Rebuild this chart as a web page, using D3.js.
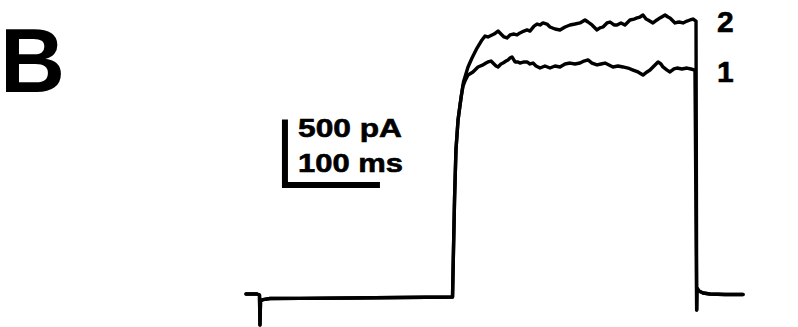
<!DOCTYPE html>
<html>
<head>
<meta charset="utf-8">
<script src="https://cdn.jsdelivr.net/npm/d3@7"></script>
<style>
  html, body { margin: 0; padding: 0; background: #fff; }
  svg { display: block; }
  text { font-family: "Liberation Sans", Arial, Helvetica, sans-serif; font-weight: bold; fill: #000; }
</style>
</head>
<body>
<svg id="chart" width="798" height="327"></svg>
<script>
// Time (ms) and current (pA) samples
const sharedStartT = [0, 11.6, 14.2, 14.7, 15.3, 17.9, 25.3, 56.8, 109.5, 162.1, 217.4, 218.4, 219.5, 221, 223.2, 225.3, 226.8];
const sharedStartI = [22, 22, 15, -207, -30, -19, -11, -10, -7, -4, 0, 348, 719, 1089, 1311, 1422, 1496];

const trace2T = [228.9, 230.5, 233.7, 237.9, 243.2, 248.4, 251.6, 254.7, 256.8, 261.1, 265.3, 268.4, 271.6, 274.7, 277.9, 282.1, 285.3, 288.4, 292.6, 295.8, 298.9, 303.2, 306.3, 309.5, 312.6, 316.8, 320, 325.3, 330.5, 335.8, 341.1, 346.3, 351.6, 356.8, 360, 364.2, 369.5, 372.6, 375.8, 380, 383.2, 387.4, 390.5, 394.7, 398.9, 404.2, 408.4, 411.6, 414.7, 417.9, 421.1, 423.2, 428.4, 432.6, 435.8, 441.1, 444.2, 446.3, 451.6, 455.8, 460, 464.2, 467.4, 470.5, 473.7];
const trace2I = [1593, 1630, 1704, 1770, 1844, 1904, 1933, 1926, 1933, 1948, 1970, 1948, 1926, 1919, 1941, 1948, 1941, 1956, 1970, 1978, 1970, 2007, 2022, 2015, 2030, 2022, 2000, 1985, 1978, 2000, 2015, 2022, 2030, 2052, 2037, 2015, 1978, 1993, 2000, 2030, 2037, 2015, 2015, 2030, 2015, 2052, 2059, 2067, 2074, 2089, 2059, 2052, 2030, 2052, 2067, 2089, 2074, 2067, 2030, 2037, 2030, 2044, 2052, 2059, 2044];

const trace1T = [228.4, 230.5, 233.7, 238.9, 244.2, 249.5, 252.6, 254.7, 257.9, 260, 263.2, 265.3, 268.4, 270.5, 273.7, 275.8, 277.9, 280, 283.2, 286.3, 288.4, 292.6, 295.8, 298.9, 302.1, 305.3, 309.5, 314.7, 320, 325.3, 330.5, 335.8, 341.1, 346.3, 351.6, 355.8, 360, 364.2, 369.5, 373.7, 377.9, 382.1, 386.3, 391.6, 396.8, 402.1, 407.4, 412.6, 417.9, 422.1, 425.3, 429.5, 433.7, 436.8, 438.9, 443.2, 446.3, 450.5, 453.7, 458.9, 464.2, 468.4, 472.6];
const trace1I = [1563, 1600, 1644, 1667, 1704, 1719, 1733, 1741, 1748, 1733, 1711, 1704, 1726, 1733, 1748, 1756, 1770, 1778, 1741, 1741, 1733, 1741, 1741, 1726, 1733, 1711, 1696, 1711, 1696, 1711, 1704, 1726, 1733, 1726, 1733, 1748, 1756, 1733, 1719, 1726, 1733, 1719, 1704, 1711, 1704, 1696, 1681, 1667, 1644, 1667, 1681, 1711, 1741, 1726, 1704, 1681, 1667, 1689, 1696, 1689, 1696, 1689, 1681];

const sharedEndT = [474.4, 474.7, 476.8, 481.1, 488.4, 504.2, 523.2];
const sharedEndI = [-96, 67, 44, 30, 22, 19, 19];

const traceLabels = ["2", "1"];
const panelLabel = "B";
const scaleBarText = ["500 pA", "100 ms"];
const scaleBarT = [41, 141];     // ms
const scaleBarI = [830, 1315];   // pA

// Scales
const x = d3.scaleLinear().domain([0, 525]).range([246, 246 + 525 * 0.95]);
const y = d3.scaleLinear().domain([0, 2100]).range([297, 297 - 2100 * 0.135]);

const svg = d3.select("#chart");
svg.append("rect").attr("width", 798).attr("height", 327).attr("fill", "#fff");

function zip(T, I) { return T.map((t, i) => [t, I[i]]); }
const start = zip(sharedStartT, sharedStartI);
const end = zip(sharedEndT, sharedEndI);
const traces = [
  start.concat(zip(trace2T, trace2I), end),
  start.concat(zip(trace1T, trace1I), end)
];

const line = d3.line().x(d => x(d[0])).y(d => y(d[1]));

svg.selectAll("path.trace")
  .data(traces)
  .join("path")
  .attr("class", "trace")
  .attr("d", line)
  .attr("fill", "none")
  .attr("stroke", "#000")
  .attr("stroke-width", 3.4)
  .attr("stroke-linejoin", "round")
  .attr("stroke-linecap", "round");

// Trace labels
svg.selectAll("text.tlabel")
  .data(traceLabels)
  .join("text")
  .attr("class", "tlabel")
  .attr("x", 717)
  .attr("y", (d, i) => [32, 82][i])
  .attr("font-size", 30)
  .attr("stroke", "#000")
  .attr("stroke-width", 0.6)
  .text(d => d);

// Panel label
svg.append("text")
  .attr("x", 0)
  .attr("y", 92)
  .attr("font-size", 90)
  .text(panelLabel);

// Scale bar
svg.append("path")
  .attr("d", `M${x(scaleBarT[0])},${y(scaleBarI[1])} L${x(scaleBarT[0])},${y(scaleBarI[0])} L${x(scaleBarT[1])},${y(scaleBarI[0])}`)
  .attr("fill", "none")
  .attr("stroke", "#000")
  .attr("stroke-width", 6)
  .attr("stroke-linejoin", "miter")
  .attr("stroke-linecap", "butt");

svg.selectAll("text.sb")
  .data(scaleBarText)
  .join("text")
  .attr("class", "sb")
  .attr("x", 298)
  .attr("y", (d, i) => [137, 172][i])
  .attr("font-size", 26.5)
  .attr("stroke", "#000")
  .attr("stroke-width", 0.6)
  .attr("textLength", (d, i) => [104, 105][i])
  .attr("lengthAdjust", "spacingAndGlyphs")
  .text(d => d);
</script>
</body>
</html>
